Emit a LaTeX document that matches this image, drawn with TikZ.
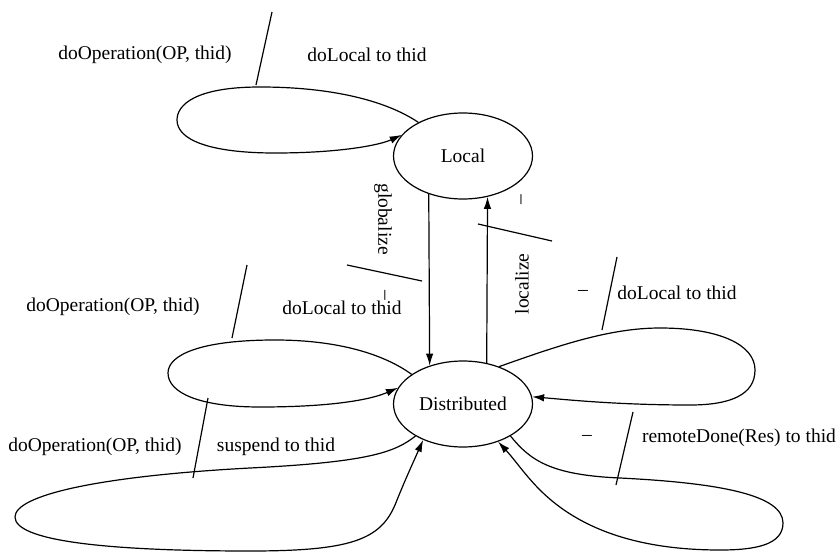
\documentclass[tikz,border=0pt]{standalone}
\usepackage{fontspec}
\setmainfont{Liberation Serif}
\usetikzlibrary{shapes.geometric,arrows.meta,calc}
\begin{document}
\begin{tikzpicture}[x=1pt,y=-1pt,
  every node/.style={font=\fontsize{19.5}{23}\selectfont},
  state/.style={draw,ellipse,line width=1.2pt,inner sep=0pt,
                minimum width=139pt,minimum height=86pt},
  trans/.style={line width=1.2pt,-{Latex[length=12pt,width=7.5pt]}},
  divider/.style={line width=1.2pt},
  lbl/.style={inner sep=0pt,anchor=center}]
\useasboundingbox (0,0) rectangle (840,559);

% states (text sits slightly left of the ellipse centre)
\node[state] (L) at (463,156) {Local\hspace{12pt}};
\node[state] (D) at (463,404) {Distributed\hspace{12pt}};

% globalize / localize
\draw[trans] (L.228) -- (D.131);
\draw[trans] (D.60) -- (L.-59);
\node[lbl,rotate=-90] (gl) at (383,219) {globalize};
\node[lbl,rotate=-90] (gla) at (383,295) {--};
\draw[divider] (347,265) -- (422,281);
\node[lbl,rotate=90] (lo) at (522,284) {localize};
\node[lbl,rotate=90] (loa) at (523,200) {--};
\draw[divider] (478,224) -- (552,241);

% self loop on Local
\draw[trans] (L.143) .. controls (385,100) and (330,87) .. (260,87)
  .. controls (195,87) and (177,105) .. (177,120)
  .. controls (177,140) and (210,153) .. (275,153)
  .. controls (340,153) and (380,145) .. (L.161);
\node[lbl] (t1) at (145,55) {doOperation(OP, thid)};
\node[lbl] (t2) at (367,55) {doLocal to thid};
\draw[divider] (256,85) -- (272,12);

% upper left loop on Distributed
\draw[trans] (D.150) .. controls (385,355) and (340,340) .. (275,340)
  .. controls (200,340) and (168,355) .. (168,373)
  .. controls (168,393) and (200,407) .. (260,407)
  .. controls (330,407) and (370,400) .. (D.166);
\node[lbl] (m1) at (113,307) {doOperation(OP, thid)};
\node[lbl] (m2) at (342,308) {doLocal to thid};
\draw[divider] (247,265) -- (232,338);

% lower left loop on Distributed
\draw[trans] (D.214) .. controls (395,452) and (370,462) .. (250,468)
  .. controls (100,476) and (15,495) .. (15,517)
  .. controls (15,540) and (100,551) .. (250,551)
  .. controls (350,551) and (380,540) .. (395,505)
  .. controls (405,480) and (412,465) .. (D.222);
\node[lbl] (b1) at (95,447) {doOperation(OP, thid)};
\node[lbl] (b2) at (276,447) {suspend to thid};
\draw[divider] (208,398) -- (193,478);

% upper right loop on Distributed
\draw[trans] (D.46) .. controls (560,345) and (610,328) .. (660,328)
  .. controls (720,328) and (755,345) .. (755,370)
  .. controls (755,395) and (730,405) .. (690,405)
  .. controls (620,405) and (570,400) .. (D.6);
\node[lbl] (r1) at (583,293) {--};
\node[lbl] (r2) at (677,293) {doLocal to thid};
\draw[divider] (617,257) -- (602,330);

% lower right loop on Distributed
\draw[trans] (D.-34) .. controls (530,460) and (550,475) .. (620,478)
  .. controls (720,483) and (783,495) .. (783,523)
  .. controls (783,545) and (755,550) .. (720,550)
  .. controls (640,550) and (580,530) .. (540,490)
  .. controls (525,475) and (515,460) .. (D.-47);
\node[lbl] (s1) at (587,438) {--};
\node[lbl] (s2) at (739,438) {remoteDone(Res) to thid};
\draw[divider] (633,412) -- (616,485);
\end{tikzpicture}
\end{document}
